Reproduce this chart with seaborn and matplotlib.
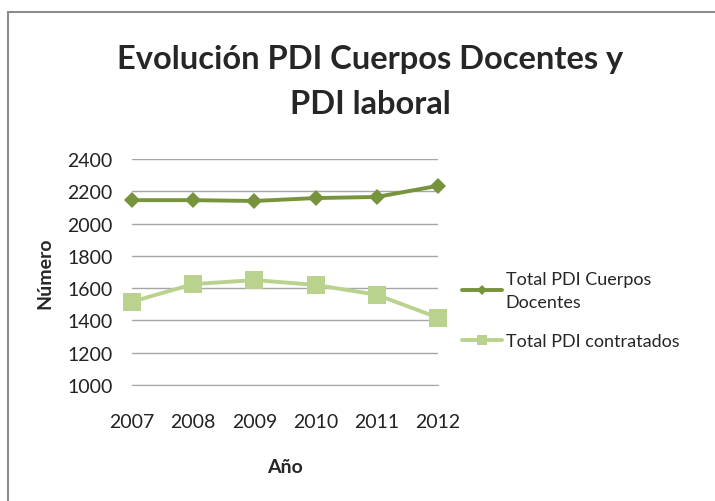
import pandas as pd
import seaborn as sns
import matplotlib.pyplot as plt
from matplotlib.patches import Rectangle

# Data
years = [2007, 2008, 2009, 2010, 2011, 2012]
cuerpos_docentes = [2145, 2145, 2140, 2158, 2165, 2234]
contratados = [1516, 1625, 1650, 1620, 1559, 1417]
y_ticks = [1000, 1200, 1400, 1600, 1800, 2000, 2200, 2400]

dark_green = '#77933C'
light_green = '#B9D38E'

sns.set_style('white')
plt.rcParams['font.family'] = ['Lato', 'DejaVu Sans']

fig = plt.figure(figsize=(7.15, 5.02), dpi=100)
ax = fig.add_axes([132 / 715, 1 - 386 / 502, 306 / 715, 226 / 502])

# chart frame, only top and left edges are visible in the export
fig.patches.append(Rectangle((8 / 715, -0.2), 1.2, 1.2 - 13 / 502, transform=fig.transFigure,
                             fill=False, edgecolor='#8C8C8C', linewidth=1.5))

sns.lineplot(x=years, y=cuerpos_docentes, ax=ax, color=dark_green, linewidth=2.8,
             marker='D', markersize=8, markeredgewidth=0, clip_on=False,
             label='Total PDI Cuerpos\nDocentes')
sns.lineplot(x=years, y=contratados, ax=ax, color=light_green, linewidth=2.8,
             marker='s', markersize=13, markeredgewidth=0, clip_on=False,
             label='Total PDI contratados')

ax.set_xlim(years[0], years[-1])
ax.set_ylim(1000, 2400)
ax.set_yticks(y_ticks)
ax.set_xticks(years)
ax.grid(axis='y', color='#A6A6A6', linewidth=1)
ax.set_axisbelow(True)
for side in ['top', 'right', 'left']:
    ax.spines[side].set_visible(False)
ax.spines['bottom'].set_color('#A6A6A6')
ax.tick_params(axis='y', length=0, pad=14, labelsize=14, labelcolor='#222222')
ax.tick_params(axis='x', length=0, pad=20, labelsize=14, labelcolor='#222222')

ax.set_xlabel('Año', fontsize=14, fontweight='bold', labelpad=20)
ax.set_ylabel('Número', fontsize=14, fontweight='bold', labelpad=10)

fig.text(370 / 715, 1 - 60 / 502, 'Evolución PDI Cuerpos Docentes y', fontsize=23.5,
         fontweight='bold', ha='center', va='center')
fig.text(370 / 715, 1 - 105 / 502, 'PDI laboral', fontsize=23.5,
         fontweight='bold', ha='center', va='center')

leg = ax.legend(loc='center left', bbox_to_anchor=(446 / 715, 1 - 311 / 502),
                bbox_transform=fig.transFigure, frameon=False, fontsize=13,
                handlelength=2.2, handletextpad=0.2, labelspacing=1.3, markerscale=0.6)
for t in leg.get_texts():
    t.set_linespacing(1.5)

fig.savefig('out.png', dpi=100)
